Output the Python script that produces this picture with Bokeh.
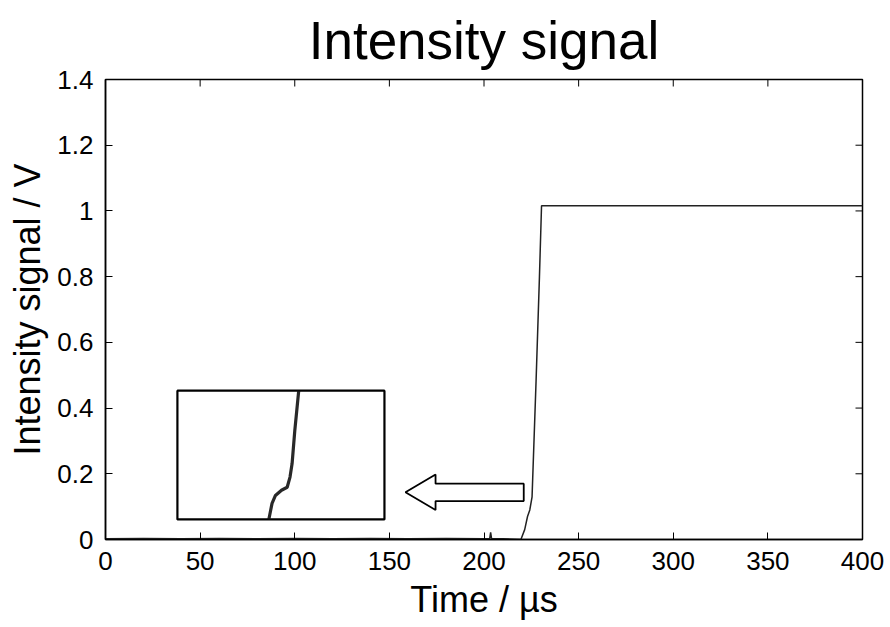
from bokeh.plotting import figure
from bokeh.models import FixedTicker, Range1d
from bokeh.embed import file_html
from bokeh.resources import INLINE

# main signal (time in µs, signal in V)
time_us = [0, 20, 40, 60, 80, 100, 120, 140, 160, 180, 200, 203.0, 203.5, 204.0,
           210, 219.5, 221.5, 223.0, 224.2, 225.4, 227.5, 229.3, 230.4, 300, 400]
signal_v = [0.002, 0.003, 0.002, 0.003, 0.002, 0.003, 0.002, 0.003, 0.002, 0.003,
            0.002, 0.002, 0.022, 0.003, 0.002, 0.0, 0.03, 0.07, 0.09, 0.13,
            0.48, 0.80, 1.016, 1.016, 1.016]

# magnified view of the rise start (inset)
inset_box = dict(left=38.0, right=147.4, bottom=0.061, top=0.453)
inset_x = [86.3, 88.0, 89.8, 93.0, 96.0, 97.5, 98.6, 100.0, 102.1]
inset_y = [0.061, 0.11, 0.134, 0.150, 0.159, 0.19, 0.231, 0.33, 0.453]

# arrow outline
arrow_x = [158.5, 174.4, 174.4, 221.0, 221.0, 174.4, 174.4, 158.5]
arrow_y = [0.144, 0.198, 0.170, 0.170, 0.117, 0.117, 0.090, 0.144]

x_ticks = [0, 50, 100, 150, 200, 250, 300, 350, 400]
y_ticks = [0, 0.2, 0.4, 0.6, 0.8, 1.0, 1.2, 1.4]
y_tick_labels = {0: "0", 0.2: "0.2", 0.4: "0.4", 0.6: "0.6", 0.8: "0.8", 1.0: "1", 1.2: "1.2", 1.4: "1.4"}

FONT = "Liberation Sans"
X0, X1, Y0, Y1 = 0, 400, 0, 1.4
FRAME_W, FRAME_H = 757, 460
TICK_PX = 7

p = figure(width=890, height=627, output_backend="svg", toolbar_location=None,
           x_range=Range1d(X0, X1), y_range=Range1d(Y0, Y1),
           min_border_left=105, min_border_right=28, min_border_top=79, min_border_bottom=88,
           title="Intensity signal")
p.grid.visible = False
p.background_fill_color = "white"
p.border_fill_color = "white"
p.outline_line_color = "black"
p.outline_line_width = 1.5

p.title.text_font = FONT
p.title.text_font_size = "53px"
p.title.text_font_style = "normal"
p.title.align = "center"
p.title.text_color = "black"
p.title.text_line_height = 1.0
p.title.standoff = 16
p.title.vertical_align = "top"

def style(ax, ticks):
    ax.ticker = FixedTicker(ticks=ticks)
    ax.major_tick_in = TICK_PX
    ax.major_tick_out = 0
    ax.minor_tick_line_color = None
    ax.axis_line_color = "black"
    ax.axis_line_width = 1.5
    ax.major_tick_line_color = "black"
    ax.major_tick_line_width = 1
    ax.major_label_text_font = FONT
    ax.major_label_text_font_size = "26px"
    ax.major_label_text_color = "black"
    ax.axis_label_text_font = FONT
    ax.axis_label_text_font_size = "36px"
    ax.axis_label_text_font_style = "normal"
    ax.axis_label_text_color = "black"

xa = p.xaxis[0]
style(xa, x_ticks)
xa.axis_label = "Time / µs"
xa.axis_label_standoff = 6
xa.major_label_standoff = 12

ya = p.yaxis[0]
style(ya, y_ticks)
ya.major_label_overrides = y_tick_labels
ya.axis_label = "Intensity signal / V"
ya.axis_label_standoff = 6
ya.major_label_standoff = 12

# mirrored inward ticks on the top and right frame edges
dy = TICK_PX * (Y1 - Y0) / FRAME_H
dx = TICK_PX * (X1 - X0) / FRAME_W
p.segment(x0=x_ticks, y0=[Y1] * len(x_ticks), x1=x_ticks, y1=[Y1 - dy] * len(x_ticks),
          line_color="black", line_width=1)
p.segment(x0=[X1] * len(y_ticks), y0=y_ticks, x1=[X1 - dx] * len(y_ticks), y1=y_ticks,
          line_color="black", line_width=1)

p.line(time_us, signal_v, line_color="#222222", line_width=1.5)

p.quad(left=[inset_box["left"]], right=[inset_box["right"]],
       bottom=[inset_box["bottom"]], top=[inset_box["top"]],
       fill_color="white", line_color="black", line_width=2.2)
p.line(inset_x, inset_y, line_color="#111111", line_width=3.2, line_alpha=0.9)

p.patch(arrow_x, arrow_y, fill_color="white", line_color="black", line_width=1.8)

open("out.html", "w").write(file_html(p, INLINE))
